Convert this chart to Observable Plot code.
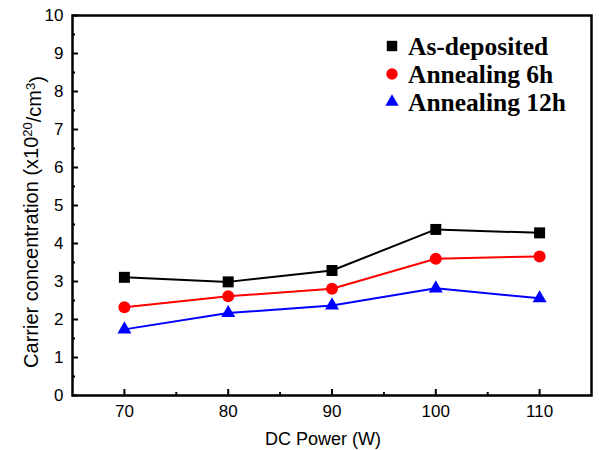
<!DOCTYPE html>
<html><head><meta charset="utf-8">
<script src="https://cdn.jsdelivr.net/npm/d3@7"></script>
<script src="https://cdn.jsdelivr.net/npm/@observablehq/plot@0.6"></script>
<style>body{margin:0;background:#fff}</style>
</head><body><div id="chart"></div>
<script>
// Data
const power = [70, 80, 90, 100, 110];
const asDeposited = [3.11, 2.99, 3.29, 4.37, 4.28];
const anneal6h = [2.32, 2.61, 2.81, 3.60, 3.66];
const anneal12h = [1.74, 2.17, 2.37, 2.82, 2.56];
const seriesNames = ["As-deposited", "Annealing 6h", "Annealing 12h"];
const seriesValues = [asDeposited, anneal6h, anneal12h];
const seriesColors = ["#000000", "#ff0000", "#0000ff"];
const seriesSymbols = ["square", "circle", "triangle"];
const seriesR = [6.2, 6, 5.2];
const xTicks = [70, 80, 90, 100, 110];
const xMinorTicks = [75, 85, 95, 105];
const yTicks = [0, 1, 2, 3, 4, 5, 6, 7, 8, 9, 10];
const yMinorTicks = [0.5, 1.5, 2.5, 3.5, 4.5, 5.5, 6.5, 7.5, 8.5, 9.5];

const rows = seriesNames.map((s, i) => power.map((p, j) => ({series: s, power: p, value: seriesValues[i][j]})));

const W = 599, H = 450, ML = 72, MR = 8, MT = 15, MB = 55;
const innerW = W - ML - MR, innerH = H - MT - MB;

const marks = [];
rows.forEach((r, i) => {
  marks.push(Plot.line(r, {x: "power", y: "value", stroke: seriesColors[i], strokeWidth: 2}));
});
rows.forEach((r, i) => {
  marks.push(Plot.dot(r, {x: "power", y: "value", symbol: () => seriesSymbols[i], fill: seriesColors[i], stroke: "none", r: seriesR[i]}));
});

const font = "'Liberation Sans', Arial, sans-serif";
const chart = Plot.plot({
  width: W, height: H,
  marginLeft: ML, marginRight: MR, marginTop: MT, marginBottom: MB,
  style: {fontFamily: font, fontSize: "17px", background: "#fff", color: "#000"},
  x: {domain: [65, 115]},
  y: {domain: [0, 10]},
  symbol: {type: "identity"},
  marks: [
    ...marks,
    Plot.axisX(xTicks, {tickSize: 0, tickPadding: 9, fontSize: 17, label: null}),
    Plot.axisY(yTicks, {tickSize: 0, tickPadding: 9, fontSize: 17, label: null}),
    // inward ticks
    Plot.tickX(xTicks, {x: d => d, insetTop: innerH - 6, stroke: "#000", strokeWidth: 2}),
    Plot.tickX(xMinorTicks, {x: d => d, insetTop: innerH - 3, stroke: "#000", strokeWidth: 2}),
    Plot.tickY(yTicks, {y: d => d, insetRight: innerW - 6, stroke: "#000", strokeWidth: 2}),
    Plot.tickY(yMinorTicks, {y: d => d, insetRight: innerW - 3, stroke: "#000", strokeWidth: 2}),
    Plot.frame({stroke: "#000", strokeWidth: 2.5})
  ]
});
document.getElementById("chart").appendChild(chart);

const svg = d3.select(chart);
// Axis titles
svg.append("text")
  .attr("x", 323).attr("y", 445)
  .attr("text-anchor", "middle")
  .style("font-family", font).style("font-size", "18px").attr("fill", "#000")
  .text("DC Power (W)");

const yl = svg.append("text")
  .attr("transform", "translate(38,222) rotate(-90)")
  .attr("text-anchor", "middle")
  .style("font-family", font).style("font-size", "20px").attr("fill", "#000");
yl.append("tspan").text("Carrier concentration (x10");
yl.append("tspan").attr("dy", "-0.45em").style("font-size", "13px").text("20");
yl.append("tspan").attr("dy", "0.45em").text("/cm");
yl.append("tspan").attr("dy", "-0.45em").style("font-size", "13px").text("3");
yl.append("tspan").attr("dy", "0.45em").text(")");

// Legend
const legendY = [46, 74, 102];
const lg = svg.append("g");
seriesNames.forEach((name, i) => {
  const sym = d3.symbol(
    {square: d3.symbolSquare, circle: d3.symbolCircle, triangle: d3.symbolTriangle}[seriesSymbols[i]],
    Math.PI * seriesR[i] * seriesR[i] * 0.9);
  lg.append("path").attr("d", sym()).attr("fill", seriesColors[i])
    .attr("transform", `translate(392,${legendY[i]})`);
  lg.append("text").attr("x", 408).attr("y", legendY[i] + 9)
    .attr("text-anchor", "start")
    .style("font-family", "'Liberation Serif', 'Times New Roman', serif")
    .style("font-weight", "bold").style("font-size", "25.5px").attr("fill", "#000")
    .text(name);
});
</script>
</body></html>
